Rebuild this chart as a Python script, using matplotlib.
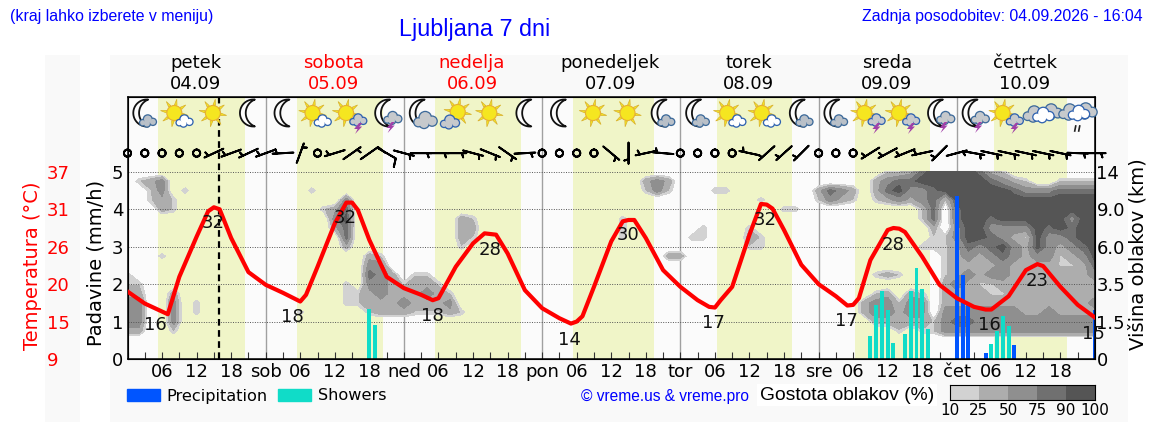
import numpy as np
import matplotlib
matplotlib.use("Agg")
import matplotlib.pyplot as plt
from matplotlib.patches import Circle, Polygon, Rectangle, Patch

# ---------- data ----------
DAY_NAMES = ["petek", "sobota", "nedelja", "ponedeljek", "torek", "sreda", "četrtek"]
DAY_DATES = ["04.09", "05.09", "06.09", "07.09", "08.09", "09.09", "10.09"]
DAY_COLORS = ["black", "red", "red", "black", "black", "black", "black"]
DAY_SHORT = ["sob", "ned", "pon", "tor", "sre", "čet"]

SUNRISE = [5.25, 29.5, 53.4, 77.4, 102.4, 126.3, 150.5]
SUNSET = [20.4, 44.3, 68.4, 91.4, 115.3, 139.3, 163.2]
NOW_HOUR = 15.9

TEMP_HOURS = [0, 3, 6, 7, 9, 12, 14, 15, 16, 18, 21, 24, 27, 30, 31, 33, 36, 38, 39, 40, 42, 45,
              48, 51, 53, 54, 57, 60, 62, 64, 66, 69, 72, 75, 77, 78, 79, 81, 84, 86, 87, 88, 90, 93,
              96, 99, 101, 102, 103, 105, 108, 110, 111, 112, 114, 117, 120, 123, 125, 126, 127, 129,
              132, 133, 134, 135, 138, 141, 144, 147, 149, 150, 153, 156, 158, 159, 162, 165, 168]
TEMP_VALUES = [19.1, 17.3, 16.1, 15.7, 21.3, 27.3, 31.1, 31.7, 31.4, 27.1, 22.0, 20.1, 18.9, 17.6, 18.6, 22.8, 29.3, 32.4, 32.4, 31.3, 26.8, 21.3,
               19.6, 18.6, 17.8, 18.1, 22.8, 26.3, 27.8, 27.6, 24.8, 19.3, 16.6, 15.1, 14.3, 14.6, 15.4, 19.8, 26.6, 29.6, 29.8, 29.8, 27.1, 22.3,
               19.8, 17.8, 16.8, 16.7, 17.8, 19.8, 27.6, 32.2, 32.1, 31.5, 28.3, 23.1, 20.2, 18.4, 17.0, 17.1, 18.1, 23.8,
               28.3, 28.6, 28.5, 28.0, 24.3, 20.1, 18.1, 16.8, 16.4, 16.4, 18.4, 22.3, 23.2, 22.9, 19.8, 17.1, 15.2]

TEMP_LABEL_TEXT = ["16", "32", "18", "32", "18", "28", "14", "30", "17", "32", "17", "28", "16", "23", "15"]
TEMP_LABEL_HOUR = [4.8, 14.8, 28.7, 37.8, 52.9, 62.9, 76.8, 86.9, 101.8, 110.8, 124.9, 132.9, 149.7, 157.9, 167.8]
TEMP_LABEL_POS = [14.1, 29.4, 15.3, 30.1, 15.4, 25.3, 11.8, 27.6, 14.4, 29.8, 14.7, 26.1, 14.1, 20.7, 12.7]

SHOWER_HOURS = [42, 43, 129, 130, 131, 132, 133, 135, 136, 137, 138, 139, 150, 151, 152, 153]
SHOWER_VALUES = [1.34, 0.91, 0.62, 1.43, 1.83, 1.32, 0.43, 0.68, 1.83, 2.42, 1.88, 0.81, 0.41, 0.74, 1.16, 0.89]
PRECIP_HOURS = [144, 145, 146, 149, 154, 168]
PRECIP_VALUES = [4.35, 2.25, 1.45, 0.17, 0.38, 1.32]

# wind: blowing-toward angle (deg) and speed for each 3 h step, speed 0 = calm
WIND_ANGLE = [0, 0, 0, 0, 0, 25, 20, 25, 20, 3, 250, 0, 17, 215, 215, 150,
              165, 180, 180, 180, 165, 158, 145, 183, 0, 0, 0, 0, 140, 90, 12, -5,
              0, 0, 0, 0, -12, 42, 42, 45, 0, 0, 0, 32, 28, 22, 12, 45,
              195, 170, 168, 168, 168, 168, 168, 178, 180]
WIND_SPEED = [0, 0, 0, 0, 0, 5, 5, 5, 5, 5, 5, 0, 5, 5, 10, 10,
              5, 5, 5, 5, 5, 5, 5, 5, 0, 0, 0, 0, 5, 5, 5, 5,
              0, 0, 0, 0, 5, 5, 5, 5, 0, 0, 0, 5, 5, 5, 5, 5,
              5, 5, 5, 5, 5, 5, 5, 5, 5]

ICON_HOURS = [3 + 6 * i for i in range(28)]
ICON_KINDS = ["moon_cloud", "sun_cloud", "sun", "moon",
              "moon", "sun_cloud", "sun_storm", "moon_storm",
              "moon_bigcloud", "sun_greycloud", "sun", "moon",
              "moon", "sun", "sun", "moon_cloud",
              "moon_cloud", "sun_cloud", "sun_cloud", "moon_cloud",
              "moon_cloud", "sun_storm", "sun_storm", "moon_storm",
              "moon_storm", "sun_storm", "clouds", "clouds_rain"]

LEVEL_TICKS = [0, 1, 2, 3, 4, 5]
TEMP_TICK_LABELS = ["9", "15", "20", "26", "31", "37"]
HEIGHT_TICK_LABELS = ["0", "1.5", "3.5", "6.0", "9.0", "14"]
CLOUD_LEVELS = [10, 25, 50, 75, 90, 100]
CLOUD_COLORS = ["#d2d2d2", "#adadad", "#8f8f8f", "#707070", "#555555"]

# cloud density codes, per height level: (first hour, one code per 2 h step)
CLOUD_CODE = {"1": 22, "2": 40, "3": 65, "4": 85, "5": 97}
CLOUD_CLEAR = -20
CLOUD_RUNS = {
    5.00: [(132, "11245555421")],
    4.75: [(2, "123"), (90, "232"), (130, "23445555554321"), (162, "1111")],
    4.50: [(4, "13"), (10, "1"), (32, "1"), (90, "131"), (102, "11"), (120, "2432"),
           (130, "24533455555543334444")],
    4.25: [(4, "121"), (38, "3"), (110, "1"), (120, "1321"), (130, "1232341" + "5555555555555")],
    4.00: [(6, "21"), (34, "124"), (114, "11"), (138, "14"), (144, "4555555555555")],
    3.75: [(36, "35"), (58, "21"), (86, "1"), (138, "14"), (144, "4554555555355")],
    3.50: [(36, "24"), (58, "22"), (86, "1"), (100, "1"), (108, "1"), (140, "2"), (144, "3553333545455")],
    3.25: [(38, "4"), (58, "21"), (86, "1"), (98, "11"), (108, "21"), (140, "113554321533455")],
    3.00: [(38, "2"), (58, "1"), (108, "11"), (138, "1112434532532345")],
    2.75: [(6, "1"), (42, "21"), (94, "22"), (142, "12323432331235")],
    2.50: [(42, "33"), (142, "12222322221124")],
    2.25: [(0, "1"), (42, "432"), (50, "11"), (130, "121"), (142, "12323322222223")],
    2.00: [(0, "11"), (38, "1"), (42, "3321221"), (142, "23211222222222")],
    1.75: [(0, "22"), (8, "2"), (38, "11"), (42, "23222321"), (130, "12"), (136, "21"), (142, "22221122222222")],
    1.50: [(0, "33"), (8, "3"), (12, "1"), (38, "11"), (42, "22232223"), (128, "233133"), (142, "22222222222223")],
    1.25: [(0, "33"), (8, "3"), (12, "1"), (30, "1"), (42, "122211121"), (128, "233233"), (142, "33333332232222")],
    1.00: [(0, "33"), (8, "3"), (130, "222221"), (142, "34433333333333")],
    0.75: [(0, "22"), (8, "1"), (134, "1"), (138, "11"), (142, "33333333333333")],
}

# ---------- layout helpers ----------
W, H = 1152, 443
plt.rcParams["font.family"] = "DejaVu Sans"
fig = plt.figure(figsize=(W / 100, H / 100), dpi=100, facecolor="white")
PANEL = "#f9f9f9"
BG = fig.add_axes([0, 0, 1, 1], zorder=-5)
BG.set_xlim(0, W); BG.set_ylim(H, 0); BG.axis("off")
BG.add_patch(Rectangle((110, 55), 1018, 367, fc=PANEL, ec="none"))
BG.add_patch(Rectangle((45, 55), 35, 367, fc=PANEL, ec="none"))

ax = fig.add_axes([127.5 / W, (H - 359) / H, 967.5 / W, 262 / H], zorder=1)
ax.set_facecolor("#fbfbfb")
ax.set_xlim(0, 168)
ax.set_ylim(0, 7)

# ---------- background bands, grid ----------
for a, b in zip(SUNRISE, SUNSET):
    ax.axvspan(a, b, color="#f0f5c8", lw=0, zorder=0)
for k in range(1, 7):
    ax.axvline(24 * k, color="#a0a0a0", lw=1, zorder=0.5)

# ---------- clouds ----------
grid_x = np.arange(0, 170, 2)
grid_y = np.arange(0, 5.01, 0.25)
grid = np.full((len(grid_y), len(grid_x)), float(CLOUD_CLEAR))
for lev, runs in CLOUD_RUNS.items():
    row = int(round(lev / 0.25))
    for start, codes in runs:
        for i, c in enumerate(codes):
            grid[row, start // 2 + i] = CLOUD_CODE[c]
ax.contourf(grid_x, grid_y, grid, levels=CLOUD_LEVELS, colors=CLOUD_COLORS, zorder=1, extend="neither")

for lev in LEVEL_TICKS[1:]:
    ax.axhline(lev, color="#555555", lw=0.7, ls=(0, (1, 1.5)), zorder=1.5)

# ---------- bars ----------
ax.bar(SHOWER_HOURS, SHOWER_VALUES, width=0.68, color="#10dcc8", zorder=2)
ax.bar(PRECIP_HOURS, PRECIP_VALUES, width=0.68, color="#0055ff", zorder=2)

# ---------- wind ----------
wh = np.arange(0, 169, 3)
ang = np.radians(WIND_ANGLE)
ax.barbs(wh, np.full(len(wh), 5.5), np.array(WIND_SPEED) * np.cos(ang), np.array(WIND_SPEED) * np.sin(ang),
         length=5.5, pivot="middle", linewidth=1.4, barbcolor="black", flagcolor="black",
         sizes=dict(emptybarb=0.17, spacing=0.14, height=0.4), zorder=3, clip_on=False,
         barb_increments=dict(half=5, full=10, flag=50))

ax.axvline(NOW_HOUR, color="black", lw=1.6, ls=(0, (3, 2)), zorder=4)

# ---------- axes cosmetics ----------
xt = np.arange(0, 169, 3)
ax.set_xticks(xt)
xl = []
for h in xt:
    if h % 24 == 0:
        d = h // 24
        xl.append(DAY_SHORT[d - 1] if 1 <= d <= 6 else "")
    elif h % 6 == 0:
        xl.append("%02d" % (h % 24))
    else:
        xl.append("")
ax.set_xticklabels(xl, fontsize=13)
ax.tick_params(axis="x", direction="in", length=5, width=0.8, pad=3, color="#333333")
ax.set_yticks(LEVEL_TICKS)
ax.set_yticklabels([str(v) for v in LEVEL_TICKS], fontsize=13)
ax.tick_params(axis="y", length=0, pad=3)
ax.set_ylabel("Padavine (mm/h)", fontsize=14)
ax.yaxis.set_label_coords(-22 / 967.5, 0.366)
for s in ax.spines.values():
    s.set_linewidth(1.1)

# right axis: cloud height
axr = ax.twinx()
axr.set_ylim(0, 7)
axr.set_yticks(LEVEL_TICKS)
axr.set_yticklabels(HEIGHT_TICK_LABELS, fontsize=13)
axr.tick_params(axis="y", length=0, pad=1)
axr.set_ylabel("Višina oblakov (km)", fontsize=14)
axr.yaxis.set_label_coords(1 + 34 / 967.5, 0.40)
axr.patch.set_alpha(0)

# temperature axis
axt = ax.twinx()
axt.set_ylim(9, 9 + 7 * 5.6)
axt.patch.set_alpha(0)
axt.yaxis.set_ticks_position("left")
axt.yaxis.set_label_position("left")
axt.spines["left"].set_position(("outward", 58))
axt.spines["left"].set_visible(False)
axt.spines["right"].set_visible(False)
axt.spines["top"].set_visible(False)
axt.spines["bottom"].set_visible(False)
axt.set_yticks([9 + 5.6 * v for v in LEVEL_TICKS])
axt.set_yticklabels(TEMP_TICK_LABELS, fontsize=13, color="red", ha="left")
axt.tick_params(axis="y", length=0, pad=0, colors="red")
axt.set_ylabel("Temperatura (°C)", fontsize=14, color="red")
axt.yaxis.set_label_coords(-86 / 967.5, 0.355)
axt.plot(TEMP_HOURS, TEMP_VALUES, color="red", lw=3, solid_joinstyle="round", zorder=5)
for t, h, v in zip(TEMP_LABEL_TEXT, TEMP_LABEL_HOUR, TEMP_LABEL_POS):
    axt.text(h, v, t, fontsize=13, ha="center", va="center", color="#111111", zorder=6, clip_on=False)

# ---------- overlay in pixel space ----------
ov = fig.add_axes([0, 0, 1, 1], zorder=5)
ov.set_xlim(0, W); ov.set_ylim(H, 0); ov.axis("off"); ov.patch.set_alpha(0)


def hour_px(h):
    return 127.5 + 967.5 * h / 168


def arc(cx, cy, r, a0, a1, n=30):
    t = np.radians(np.linspace(a0, a1, n))
    return np.c_[cx + r * np.cos(t), cy - r * np.sin(t)]


def sun(cx, cy, r=7.5):
    for a in range(0, 360, 45):
        a1 = np.radians(a + 10)
        ap = a1 + np.pi / 2
        tip = (cx + (r + 6.5) * np.cos(a1), cy + (r + 6.5) * np.sin(a1))
        b1 = (cx + (r + 0.5) * np.cos(a1) + 1.3 * np.cos(ap), cy + (r + 0.5) * np.sin(a1) + 1.3 * np.sin(ap))
        b2 = (cx + (r + 0.5) * np.cos(a1) - 1.3 * np.cos(ap), cy + (r + 0.5) * np.sin(a1) - 1.3 * np.sin(ap))
        ov.add_patch(Polygon([tip, b1, b2], fc="#f5e620", ec="#d8b030", lw=0.5))
    ov.add_patch(Circle((cx, cy), r, fc="#f5e620", ec="#e8b030", lw=0.8))


def moon(cx, cy, R=13.5):
    outer = arc(cx, cy, R, 84, 276)
    x0, y0 = outer[0]
    x1, y1 = outer[-1]
    r2 = R * 1.07
    half = abs(y1 - y0) / 2
    icx = x0 + np.sqrt(r2 ** 2 - half ** 2)
    a = np.degrees(np.arcsin(half / r2))
    inner = arc(icx, cy, r2, 180 + a, 180 - a)
    ov.add_patch(Polygon(np.vstack([outer, inner]), fc="#fdfdfd", ec="#111111", lw=1.3, joinstyle="round"))


def cloud(cx, cy, s=1.0, fill="#c6c9cc", edge="#3d6a9a"):
    parts = [(-6, 2, 4.5), (0, -2, 6), (6, 1, 5), (-1, 3, 5)]
    for dx, dy, r in parts:
        ov.add_patch(Circle((cx + dx * s, cy + dy * s), r * s, fc=edge, ec="none"))
    for dx, dy, r in parts:
        ov.add_patch(Circle((cx + dx * s, cy + dy * s), r * s - 1.3, fc=fill, ec="none"))


def bolt(cx, cy):
    pts = [(cx + 1, cy - 5), (cx - 4, cy + 1), (cx - 0.5, cy + 1), (cx - 3, cy + 6),
           (cx + 4, cy - 1.5), (cx + 1, cy - 1.5), (cx + 4, cy - 5)]
    ov.add_patch(Polygon(pts, fc="#a23fa8", ec="none"))


def icon(h, kind):
    x = hour_px(h)
    y = 113
    if kind == "sun":
        sun(x - 1, y)
    elif kind == "moon":
        moon(x + 5, y)
    elif kind == "moon_cloud":
        moon(x + 2, y)
        cloud(x + 3, y + 8, 0.85, "#b9c0c8", "#3d6a9a")
    elif kind == "moon_bigcloud":
        moon(x + 2, y)
        cloud(x + 4, y + 7, 1.15, "#c6c9cc", "#3d6a9a")
    elif kind == "moon_storm":
        moon(x + 2, y)
        cloud(x + 6, y + 5, 0.9, "#c6c9cc", "#3d6a9a")
        bolt(x + 4, y + 14)
    elif kind == "sun_cloud":
        sun(x - 5, y)
        cloud(x + 5, y + 8, 0.85, "white", "#2f62b0")
    elif kind == "sun_greycloud":
        sun(x + 2, y - 1)
        cloud(x - 6, y + 9, 0.95, "#c6c9cc", "#2f62b0")
    elif kind == "sun_storm":
        sun(x - 6, y)
        cloud(x + 6, y + 7, 0.85, "#c6c9cc", "#2f62b0")
        bolt(x + 6, y + 15)
    elif kind == "clouds":
        cloud(x - 9, y + 1, 1.1, "#c6c9cc", "#3d6a9a")
        cloud(x + 8, y - 1, 1.1, "#c6c9cc", "#3d6a9a")
        cloud(x + 0, y + 2, 1.05, "white", "#2f62b0")
    elif kind == "clouds_rain":
        cloud(x - 8, y - 1, 1.1, "#c6c9cc", "#3d6a9a")
        cloud(x + 8, y - 2, 1.1, "#c6c9cc", "#3d6a9a")
        cloud(x + 1, y + 0, 1.05, "white", "#2f62b0")
        ov.plot([x - 2, x - 3], [y + 13, y + 18], color="#222222", lw=1.2)
        ov.plot([x + 2, x + 1], [y + 13, y + 18], color="#222222", lw=1.2)


for h, k in zip(ICON_HOURS, ICON_KINDS):
    icon(h, k)

# ---------- texts ----------
ARIAL = "Liberation Sans"
ov.text(10, 16, "(kraj lahko izberete v meniju)", color="#0000ff", fontsize=11.4, family=ARIAL, va="center")
ov.text(1143, 16, "Zadnja posodobitev: 04.09.2026 - 16:04", color="#0000ff", fontsize=11.4, family=ARIAL, va="center", ha="right")
ov.text(474.5, 29, "Ljubljana 7 dni", color="#0000ff", fontsize=16.8, family=ARIAL, va="center", ha="center")
for i in range(7):
    x = hour_px(12 + 24 * i) - 1
    ov.text(x, 63, DAY_NAMES[i], color=DAY_COLORS[i], fontsize=13, ha="center", va="center")
    ov.text(x, 84, DAY_DATES[i], color=DAY_COLORS[i], fontsize=13, ha="center", va="center")
ov.text(665, 396, "© vreme.us & vreme.pro", color="#0000ff", fontsize=11.2, family=ARIAL, va="center", ha="center")
ov.text(847, 395, "Gostota oblakov (%)", color="black", fontsize=13.9, family=ARIAL, va="center", ha="center",
        bbox=dict(fc="white", ec="none", pad=2))

leg = fig.legend(handles=[Patch(color="#0055ff", label="Precipitation"), Patch(color="#10dcc8", label="Showers")],
                 ncol=2, frameon=False, fontsize=11.6, handlelength=2.05, handleheight=0.8, handletextpad=0.42,
                 columnspacing=0.65, borderpad=0, borderaxespad=0,
                 loc="center left", bbox_to_anchor=(127 / W, (H - 396) / H))

# colour scale
cb = fig.add_axes([950 / W, (H - 400) / H, 145 / W, 15 / H], zorder=6)
cb.pcolormesh(np.arange(6), [0, 1], np.arange(5).reshape(1, 5),
              cmap=matplotlib.colors.ListedColormap(CLOUD_COLORS), vmin=0, vmax=4)
cb.set_yticks([])
cb.set_xticks(np.arange(6))
cb.set_xticklabels([str(v) for v in CLOUD_LEVELS], fontsize=11)
cb.tick_params(axis="x", length=0, pad=2)
for s in cb.spines.values():
    s.set_linewidth(0.8)

fig.savefig("out.png", dpi=100, facecolor="white")
